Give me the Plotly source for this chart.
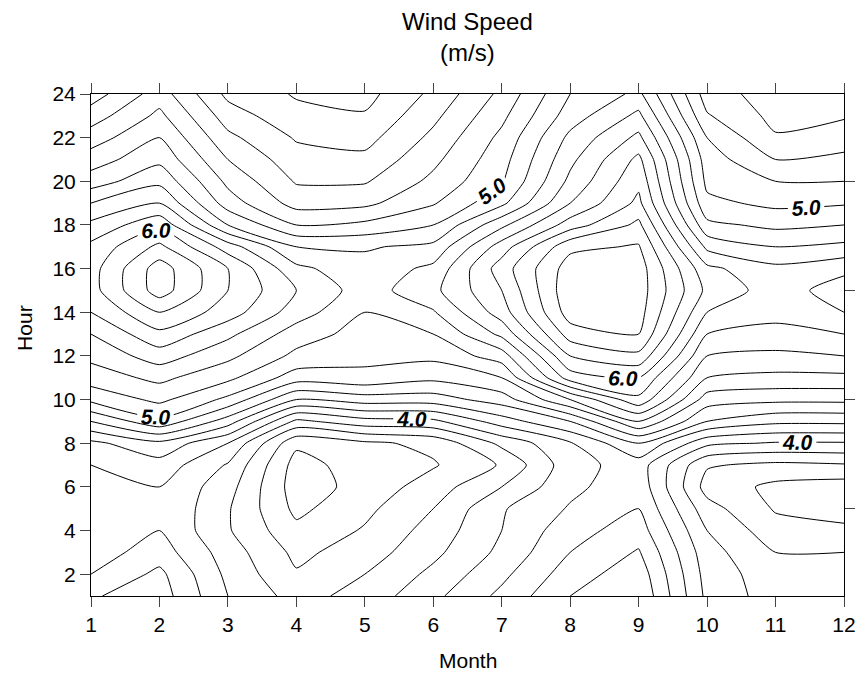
import numpy as np
import plotly.graph_objects as go

months = list(range(1, 13))
hours = list(range(1, 25))
x_ticks = list(range(1, 13))
y_ticks = list(range(2, 25, 2))
right_ticks = [5, 10, 15, 20]

# wind speed (m/s) for hours 1..24, one list per month
jan = [4.18, 4.0, 3.9, 3.85, 3.85, 3.9, 4.0, 4.15, 4.6, 5.05, 5.3, 5.45, 5.6, 5.8, 5.92, 5.92, 5.85, 5.65, 5.4, 5.1, 4.9, 4.7, 4.5, 4.3]
feb = [4.3, 4.25, 4.1, 4.0, 4.0, 4.0, 4.12, 4.35, 4.95, 5.25, 5.45, 5.7, 5.95, 6.2, 6.5, 6.5, 6.25, 5.95, 5.6, 5.35, 5.15, 5.0, 4.85, 4.7]
mar = [3.8, 3.75, 3.7, 3.62, 3.62, 3.68, 3.78, 4.0, 4.5, 4.95, 5.25, 5.45, 5.65, 5.9, 6.0, 6.0, 5.7, 5.2, 4.9, 4.75, 4.6, 4.45, 4.3, 4.15]
apr = [3.52, 3.42, 3.35, 3.25, 3.15, 3.1, 3.12, 3.24, 3.75, 4.4, 4.9, 5.15, 5.3, 5.5, 5.6, 5.45, 5.2, 4.8, 4.52, 4.38, 4.28, 4.18, 4.06, 3.98]
may = [3.68, 3.6, 3.5, 3.42, 3.35, 3.27, 3.3, 3.36, 3.92, 4.5, 4.95, 5.05, 5.12, 5.2, 5.3, 5.27, 5.18, 4.85, 4.55, 4.38, 4.25, 4.13, 4.02, 3.93]
jun = [3.95, 3.85, 3.75, 3.68, 3.6, 3.5, 3.38, 3.45, 3.95, 4.5, 4.85, 5.05, 5.2, 5.38, 5.55, 5.45, 5.25, 5.0, 4.78, 4.65, 4.55, 4.45, 4.35, 4.25]
jul = [4.25, 4.15, 4.05, 4.0, 3.98, 3.8, 3.62, 3.85, 4.3, 4.7, 5.0, 5.3, 5.65, 5.9, 6.0, 6.1, 5.9, 5.55, 5.15, 4.98, 4.92, 4.85, 4.75, 4.65]
aug = [4.6, 4.5, 4.4, 4.32, 4.22, 4.15, 4.12, 4.18, 4.6, 5.2, 5.9, 6.2, 6.5, 6.7, 6.75, 6.7, 6.55, 6.1, 5.8, 5.65, 5.55, 5.45, 5.3, 5.2]
sep = [4.78, 4.72, 4.62, 4.5, 4.4, 4.33, 4.3, 4.6, 5.2, 5.75, 6.0, 6.35, 6.6, 6.68, 6.7, 6.7, 6.62, 6.45, 6.25, 6.15, 6.05, 5.85, 5.65, 5.45]
oct = [3.95, 3.92, 3.88, 3.8, 3.68, 3.52, 3.62, 4.05, 4.6, 4.9, 5.2, 5.4, 5.6, 5.8, 5.95, 5.85, 5.55, 5.25, 5.05, 4.95, 4.9, 4.8, 4.62, 4.5]
nov = [3.7, 3.68, 3.6, 3.48, 3.38, 3.35, 3.55, 3.98, 4.45, 4.85, 5.15, 5.35, 5.55, 5.65, 5.7, 5.65, 5.4, 5.15, 4.95, 4.8, 4.6, 4.42, 4.34, 4.3]
dec = [3.72, 3.68, 3.6, 3.45, 3.3, 3.3, 3.58, 3.98, 4.45, 4.85, 5.15, 5.4, 5.6, 5.8, 5.9, 5.75, 5.45, 5.2, 4.98, 4.8, 4.65, 4.5, 4.38, 4.3]

z = np.array([jan, feb, mar, apr, may, jun, jul, aug, sep, oct, nov, dec]).T

FONT = "Liberation Sans"
SMOOTH = 0.6

fig = go.Figure()

# unlabeled levels (every 0.2, skipping the integers)
for start, end in [(2.8, 3.8), (4.2, 4.8), (5.2, 5.8), (6.2, 7.0)]:
    fig.add_trace(go.Contour(
        x=months, y=hours, z=z,
        contours=dict(coloring="none", start=start, end=end, size=0.2, showlabels=False),
        line=dict(color="black", width=1, smoothing=SMOOTH),
        showscale=False, hoverinfo="skip",
    ))

# labeled integer levels
fig.add_trace(go.Contour(
    x=months, y=hours, z=z,
    contours=dict(coloring="none", start=4, end=6, size=1, showlabels=True,
                  labelformat=".1f",
                  labelfont=dict(family=FONT, size=21, color="black", weight="bold", style="italic")),
    line=dict(color="black", width=1, smoothing=SMOOTH),
    showscale=False, hoverinfo="skip",
))

# dummy trace to show right-side ticks
fig.add_trace(go.Scatter(x=[None], y=[None], yaxis="y2", showlegend=False, hoverinfo="skip"))

fig.update_layout(
    width=861, height=675,
    margin=dict(l=91, r=17, t=94, b=79, autoexpand=False),
    paper_bgcolor="white", plot_bgcolor="white",
    showlegend=False,
    font=dict(family=FONT, color="black"),
    xaxis=dict(range=[1, 12], tickvals=x_ticks, ticks="outside", ticklen=10,
               showline=True, linecolor="black", linewidth=1, mirror="ticks", automargin=False,
               showgrid=False, zeroline=False, tickfont=dict(size=21, color="black")),
    yaxis=dict(range=[1, 24], tickvals=y_ticks, ticks="outside", ticklen=10,
               showline=True, linecolor="black", linewidth=1, mirror=True, automargin=False,
               showgrid=False, zeroline=False, tickfont=dict(size=21, color="black")),
    yaxis2=dict(range=[1, 24], overlaying="y", side="right", tickvals=right_ticks,
                ticks="outside", ticklen=10, showticklabels=False, showline=False,
                automargin=False, showgrid=False, zeroline=False),
    annotations=[
        dict(text="Wind Speed<br>(m/s)", x=0.5, xref="paper", xanchor="center",
             y=1.175, yref="paper", yanchor="top", showarrow=False,
             font=dict(size=24, color="black", family=FONT)),
        dict(text="Month", x=0.5, xref="paper", xanchor="center", y=-0.1275, yref="paper",
             yanchor="middle", showarrow=False, font=dict(size=21, color="black", family=FONT)),
        dict(text="Hour", x=-0.0877, xref="paper", xanchor="center", y=0.534, yref="paper",
             yanchor="middle", textangle=-90, showarrow=False,
             font=dict(size=21, color="black", family=FONT)),
    ],
)

fig.write_html("out.html")
